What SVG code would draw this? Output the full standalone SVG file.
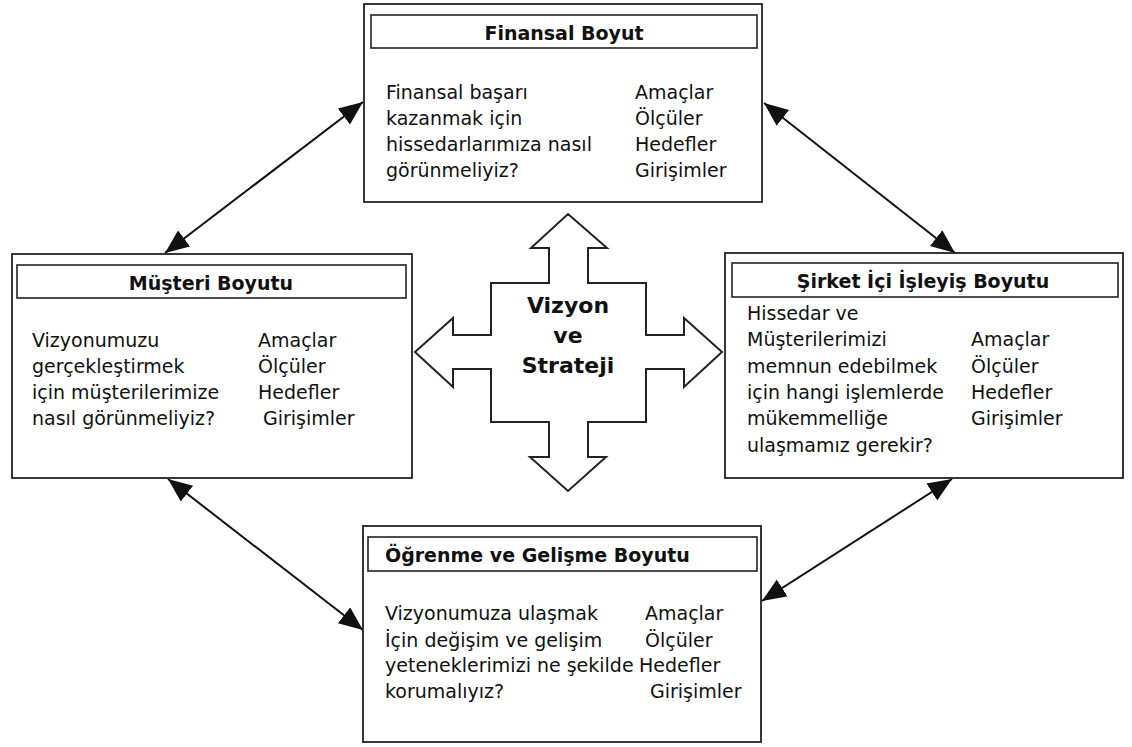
<svg xmlns="http://www.w3.org/2000/svg" width="1132" height="747" viewBox="0 0 1132 747">
  <style>
    .frame { fill: #fff; stroke: #222; stroke-width: 1.8; }
    .band { fill: #fff; stroke: #222; stroke-width: 1.6; }
    .title { font-family: "DejaVu Sans", Verdana, sans-serif; font-weight: bold; font-size: 19px; fill: #111; }
    .body { font-family: "DejaVu Sans", Verdana, sans-serif; font-size: 19px; fill: #111; }
    .link { fill: none; stroke: #111; stroke-width: 2; marker-start: url(#head); marker-end: url(#head); }
    .cross { fill: #fff; stroke: #222; stroke-width: 2; stroke-linejoin: miter; }
    .core { font-family: "DejaVu Sans", Verdana, sans-serif; font-weight: bold; font-size: 22px; fill: #111; text-anchor: middle; }
  </style>
  <defs>
    <marker id="head" markerUnits="userSpaceOnUse" markerWidth="26" markerHeight="22" refX="24" refY="10" orient="auto-start-reverse">
      <path d="M0,0 L24,10 L0,20 z" fill="#111"/>
    </marker>
  </defs>
  <rect width="1132" height="747" fill="#fff"/>

  <!-- connectors between the four perspectives -->
  <g id="connectors">
    <line class="link" x1="363" y1="102" x2="165" y2="253"/>
    <line class="link" x1="764" y1="103" x2="955" y2="253"/>
    <line class="link" x1="168" y1="479" x2="363" y2="630"/>
    <line class="link" x1="952" y1="479" x2="762" y2="601"/>
  </g>

  <!-- central four-way arrow -->
  <g id="vizyon-strateji">
    <path class="cross" d="M568,214 L607,248 L588,248 L588,283 L646,283 L646,335 L684,335 L684,318 L722,352 L684,387 L684,369 L646,369 L646,422 L588,422 L588,457 L606,457 L568,491 L530,457 L549,457 L549,422 L491,422 L491,369 L453,369 L453,387 L415,352 L453,318 L453,335 L491,335 L491,283 L549,283 L549,248 L531,248 Z"/>
    <text class="core" x="568" y="313">Vizyon</text>
    <text class="core" x="568" y="343">ve</text>
    <text class="core" x="568" y="373">Strateji</text>
  </g>

  <!-- financial perspective -->
  <g id="finansal">
    <rect class="frame" x="364" y="4" width="398" height="198"/>
    <rect class="band" x="371" y="15" width="386" height="33"/>
    <text class="title" x="564" y="40" text-anchor="middle">Finansal Boyut</text>
    <text class="body" x="386" y="99">Finansal başarı</text>
    <text class="body" x="386" y="125">kazanmak için</text>
    <text class="body" x="386" y="151">hissedarlarımıza nasıl</text>
    <text class="body" x="386" y="177">görünmeliyiz?</text>
    <text class="body" x="635" y="99">Amaçlar</text>
    <text class="body" x="635" y="125">Ölçüler</text>
    <text class="body" x="635" y="151">Hedefler</text>
    <text class="body" x="635" y="177">Girişimler</text>
  </g>

  <!-- customer perspective -->
  <g id="musteri">
    <rect class="frame" x="12" y="254" width="400" height="224"/>
    <rect class="band" x="17" y="265" width="389" height="33"/>
    <text class="title" x="211" y="290" text-anchor="middle">Müşteri Boyutu</text>
    <text class="body" x="32" y="347">Vizyonumuzu</text>
    <text class="body" x="32" y="373">gerçekleştirmek</text>
    <text class="body" x="32" y="399">için müşterilerimize</text>
    <text class="body" x="32" y="425">nasıl görünmeliyiz?</text>
    <text class="body" x="258" y="347">Amaçlar</text>
    <text class="body" x="258" y="373">Ölçüler</text>
    <text class="body" x="258" y="399">Hedefler</text>
    <text class="body" x="263" y="425">Girişimler</text>
  </g>

  <!-- internal process perspective -->
  <g id="sirket-ici">
    <rect class="frame" x="725" y="253" width="398" height="225"/>
    <rect class="band" x="732" y="263" width="386" height="34"/>
    <text class="title" x="923" y="288" text-anchor="middle">Şirket İçi İşleyiş Boyutu</text>
    <text class="body" x="747" y="320">Hissedar ve</text>
    <text class="body" x="747" y="346">Müşterilerimizi</text>
    <text class="body" x="747" y="373">memnun edebilmek</text>
    <text class="body" x="747" y="399">için hangi işlemlerde</text>
    <text class="body" x="747" y="425">mükemmelliğe</text>
    <text class="body" x="747" y="452">ulaşmamız gerekir?</text>
    <text class="body" x="971" y="346">Amaçlar</text>
    <text class="body" x="971" y="373">Ölçüler</text>
    <text class="body" x="971" y="399">Hedefler</text>
    <text class="body" x="971" y="425">Girişimler</text>
  </g>

  <!-- learning and growth perspective -->
  <g id="ogrenme">
    <rect class="frame" x="363" y="526" width="398" height="216"/>
    <rect class="band" x="368" y="537" width="389" height="34"/>
    <text class="title" x="385" y="562">Öğrenme ve Gelişme Boyutu</text>
    <text class="body" x="385" y="620">Vizyonumuza ulaşmak</text>
    <text class="body" x="385" y="647">İçin değişim ve gelişim</text>
    <text class="body" x="385" y="672">yeteneklerimizi ne şekilde</text>
    <text class="body" x="385" y="698">korumalıyız?</text>
    <text class="body" x="645" y="620">Amaçlar</text>
    <text class="body" x="645" y="647">Ölçüler</text>
    <text class="body" x="639" y="672">Hedefler</text>
    <text class="body" x="650" y="698">Girişimler</text>
  </g>
</svg>
